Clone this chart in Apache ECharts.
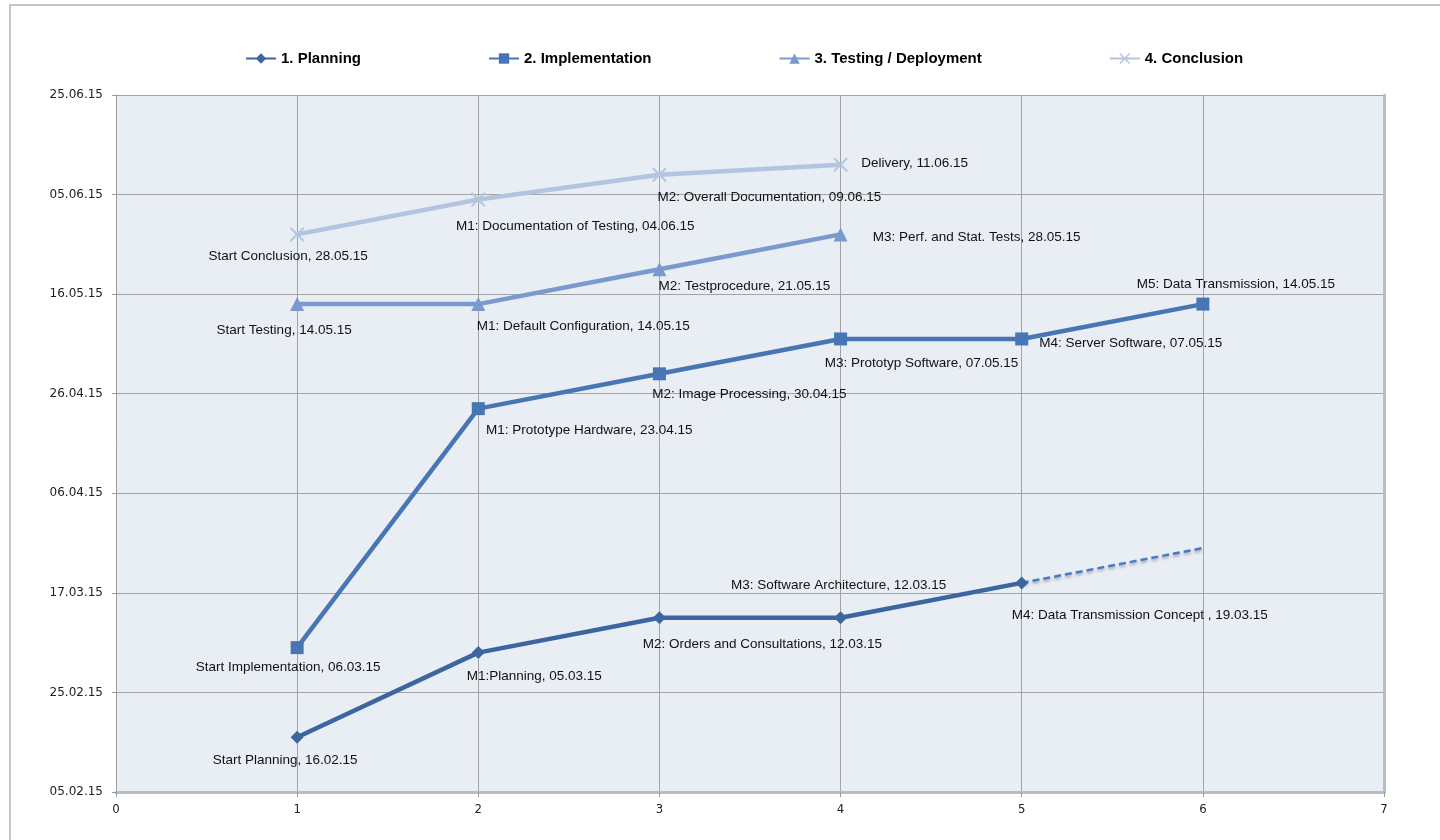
<!DOCTYPE html>
<html>
<head>
<meta charset="utf-8">
<title>Project milestones</title>
<script src="https://cdn.jsdelivr.net/npm/echarts@6/dist/echarts.min.js"></script>
<style>
  html, body { margin: 0; padding: 0; background: #fff; }
  #chart_container { width: 1440px; height: 840px; }
</style>
</head>
<body>
<div id="chart_container"></div>
<script>
// series names
const seriesNames = ['1. Planning', '2. Implementation', '3. Testing / Deployment', '4. Conclusion'];

// x positions (step number) and dates of the milestones
const planningX = [1, 2, 3, 4, 5];
const planningDates = ['16.02.15', '05.03.15', '12.03.15', '12.03.15', '19.03.15'];
const planningLabels = ['Start Planning, 16.02.15', 'M1:Planning, 05.03.15', 'M2: Orders and Consultations, 12.03.15',
  'M3: Software Architecture, 12.03.15', 'M4: Data Transmission Concept , 19.03.15'];

// dashed continuation of planning
const planningTrendX = [5, 6];
const planningTrendDates = ['19.03.15', '26.03.15'];

const implX = [1, 2, 3, 4, 5, 6];
const implDates = ['06.03.15', '23.04.15', '30.04.15', '07.05.15', '07.05.15', '14.05.15'];
const implLabels = ['Start Implementation, 06.03.15', 'M1: Prototype Hardware, 23.04.15', 'M2: Image Processing, 30.04.15',
  'M3: Prototyp Software, 07.05.15', 'M4: Server Software, 07.05.15', 'M5: Data Transmission, 14.05.15'];

const testX = [1, 2, 3, 4];
const testDates = ['14.05.15', '14.05.15', '21.05.15', '28.05.15'];
const testLabels = ['Start Testing, 14.05.15', 'M1: Default Configuration, 14.05.15', 'M2: Testprocedure, 21.05.15',
  'M3: Perf. and Stat. Tests, 28.05.15'];

const conclX = [1, 2, 3, 4];
const conclDates = ['28.05.15', '04.06.15', '09.06.15', '11.06.15'];
const conclLabels = ['Start Conclusion, 28.05.15', 'M1: Documentation of Testing, 04.06.15',
  'M2: Overall Documentation, 09.06.15', 'Delivery, 11.06.15'];

// y axis: first tick date, step in days, number of steps
const yStartDate = '05.02.15';
const yStepDays = 20;
const ySteps = 7;
const xTicks = [0, 1, 2, 3, 4, 5, 6, 7];

// label placement (label centre relative to the point, px)
const planningOffsets = [[-12, 23], [56, 24], [103, 27], [-2, -32], [118, 32]];
const implOffsets = [[-9, 20], [111, 22], [90, 20], [81, 24], [109, 4], [33, -20]];
const testOffsets = [[-13, 26], [105, 22], [85, 17], [136, 3]];
const conclOffsets = [[-9, 22], [97, 27], [110, 23], [74, -1]];

const colors = ['#3d659f', '#4876b4', '#7a9acd', '#b3c4df'];
const DAY = 86400000;

function parseDate(s) {
  const p = s.split('.');
  return Date.UTC(2000 + Number(p[2]), Number(p[1]) - 1, Number(p[0]));
}
const t0 = parseDate(yStartDate);
function toDays(s) { return Math.round((parseDate(s) - t0) / DAY); }
function fmtDay(v) {
  const d = new Date(t0 + v * DAY);
  const dd = String(d.getUTCDate()).padStart(2, '0');
  const mm = String(d.getUTCMonth() + 1).padStart(2, '0');
  const yy = String(d.getUTCFullYear() % 100).padStart(2, '0');
  return dd + '.' + mm + '.' + yy;
}

function buildData(xs, dates, labels, offsets) {
  return xs.map((x, i) => ({
    value: [x, toDays(dates[i])],
    label: labels ? { show: true, formatter: labels[i], offset: offsets[i] } : { show: false }
  }));
}

const labelStyle = {
  show: true,
  position: 'inside',
  color: '#111',
  fontFamily: 'Liberation Sans, Arial, sans-serif',
  fontSize: 13.5
};

const xSymbol = 'path://M0,0 L1,0 L5,4 L9,0 L10,0 L10,1 L6,5 L10,9 L10,10 L9,10 L5,6 L1,10 L0,10 L0,9 L4,5 L0,1 Z';

function lineSeries(name, data, color, symbol, size) {
  return {
    name: name,
    type: 'line',
    data: data,
    symbol: symbol,
    symbolSize: size,
    showSymbol: true,
    color: color,
    lineStyle: { width: 4.5, color: color },
    itemStyle: { color: color },
    label: labelStyle,
    emphasis: { disabled: true },
    z: 3
  };
}

const chart = echarts.init(document.getElementById('chart_container'));
const option = {
  animation: false,
  backgroundColor: '#fff',
  graphic: [{
    type: 'rect',
    shape: { x: 10, y: 5, width: 1440, height: 850 },
    style: { fill: 'none', stroke: '#b4b4b4', lineWidth: 1.5 },
    silent: true
  }],
  legend: {
    data: seriesNames,
    left: 240,
    top: 46,
    itemWidth: 30,
    itemHeight: 13,
    itemGap: 127,
    itemTextGap: 1,
    textStyle: { fontFamily: 'Liberation Sans, Arial, sans-serif', fontSize: 15, fontWeight: 'bold', color: '#000' }
  },
  grid: {
    left: 116, right: 56, top: 95, bottom: 48,
    show: true, backgroundColor: '#e9edf4', borderWidth: 0
  },
  xAxis: {
    type: 'value',
    min: 0, max: 7, interval: 1,
    axisLine: { show: true, lineStyle: { color: '#b9bcc2', width: 3 } },
    axisTick: { show: true, length: 5, lineStyle: { color: '#999' } },
    axisLabel: {
      margin: 11, color: '#222', fontSize: 13,
      fontFamily: 'Liberation Sans Narrow, DejaVu Sans Condensed, sans-serif',
      formatter: v => (xTicks.indexOf(v) >= 0 ? String(v) : '')
    },
    splitLine: { show: true, lineStyle: { color: '#a3a3a3', width: 1 } }
  },
  yAxis: [{
    type: 'value',
    min: 0, max: yStepDays * ySteps, interval: yStepDays,
    axisLine: { show: true, lineStyle: { color: '#9c9c9c', width: 1 } },
    axisTick: { show: true, length: 4, lineStyle: { color: '#9c9c9c' } },
    axisLabel: {
      margin: 13, color: '#222', fontSize: 12,
      fontFamily: 'DejaVu Sans, Verdana, sans-serif',
      formatter: fmtDay
    },
    splitLine: { show: true, lineStyle: { color: '#a3a3a3', width: 1 } }
  }, {
    type: 'value',
    position: 'right',
    min: 0, max: yStepDays * ySteps, interval: yStepDays,
    axisLine: { show: true, lineStyle: { color: '#b9bcc2', width: 3 } },
    axisTick: { show: false },
    axisLabel: { show: false },
    splitLine: { show: false }
  }],
  series: [
    lineSeries(seriesNames[0], buildData(planningX, planningDates, planningLabels, planningOffsets), colors[0], 'diamond', 13),
    lineSeries(seriesNames[1], buildData(implX, implDates, implLabels, implOffsets), colors[1], 'rect', 13),
    lineSeries(seriesNames[2], buildData(testX, testDates, testLabels, testOffsets), colors[2], 'triangle', 14),
    lineSeries(seriesNames[3], buildData(conclX, conclDates, conclLabels, conclOffsets), colors[3], xSymbol, 14),
    {
      name: 'planning trend',
      type: 'line',
      data: buildData(planningTrendX, planningTrendDates, null, null),
      symbol: 'none',
      lineStyle: {
        width: 2.5, color: '#4a7bc0', type: [7, 4],
        shadowColor: 'rgba(0,0,0,0.3)', shadowBlur: 3, shadowOffsetY: 2
      },
      emphasis: { disabled: true },
      z: 2
    }
  ]
};
chart.setOption(option);
</script>
</body>
</html>
